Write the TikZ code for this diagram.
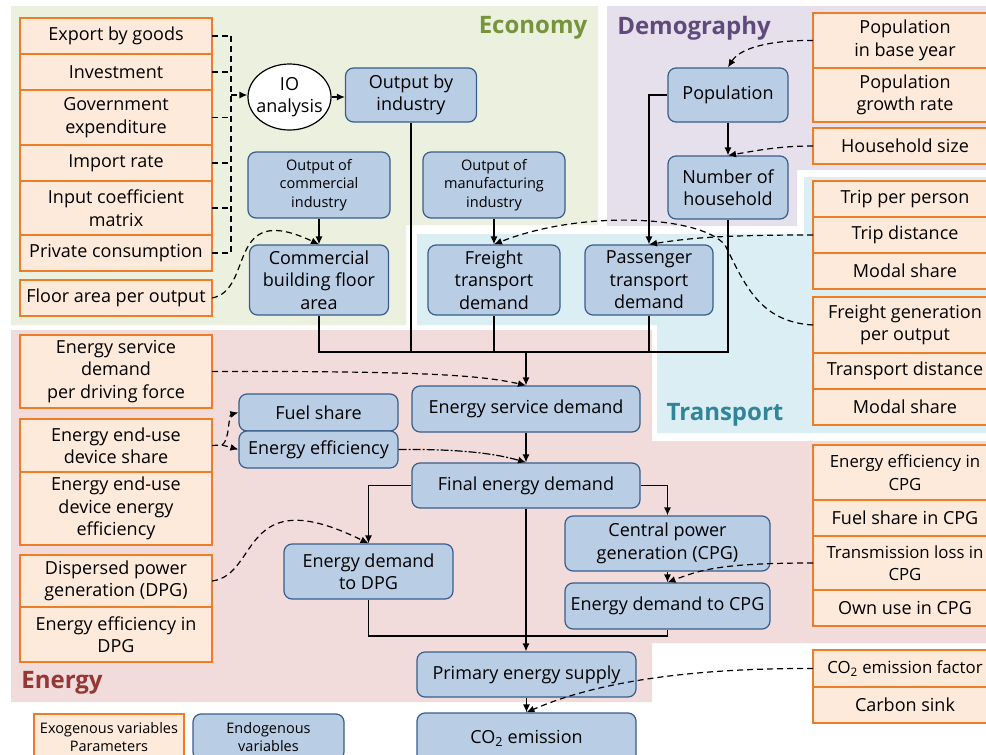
\documentclass[tikz,border=0pt]{standalone}
\usepackage{fontspec}
\setmainfont{Open Sans}
\usepackage{tikz}
\usepackage{xcolor}
\usetikzlibrary{arrows.meta, positioning, shapes.geometric}
\definecolor{econbg}{RGB}{235,241,222}
\definecolor{demobg}{RGB}{229,224,236}
\definecolor{transbg}{RGB}{218,238,243}
\definecolor{energybg}{RGB}{242,220,219}
\definecolor{econtxt}{RGB}{119,147,60}
\definecolor{demotxt}{RGB}{96,74,123}
\definecolor{transtxt}{RGB}{49,133,155}
\definecolor{energytxt}{RGB}{149,55,53}
\definecolor{endofill}{RGB}{185,205,229}
\definecolor{endoline}{RGB}{56,93,138}
\definecolor{exofill}{RGB}{253,234,218}
\definecolor{exoline}{RGB}{238,125,40}
\newcommand{\boxfont}{\fontsize{18}{22.5}\selectfont}
\newcommand{\tightboxfont}{\fontsize{16.8}{22.5}\selectfont}
\newcommand{\smallboxfont}{\fontsize{14.5}{18.5}\selectfont}
\newcommand{\titlefont}{\fontsize{24}{28}\selectfont\bfseries}
\tikzset{
  endo/.style={rectangle, rounded corners=8pt, draw=endoline, fill=endofill,
               line width=1.2pt, align=center, inner sep=1pt, font=\boxfont},
  endosmall/.style={endo, font=\smallboxfont},
  exo/.style={rectangle, draw=exoline, fill=exofill, line width=1.2pt,
              align=center, inner sep=1pt, outer sep=0pt,
              minimum width=192pt, minimum height=36pt, font=\boxfont},
  exor/.style={exo, minimum width=184pt},
  title/.style={font=\titlefont},
  link/.style={line width=1.2pt},
  arr/.style={-{Latex[length=8pt,width=7pt]}, line width=1.2pt},
  dashlink/.style={link, dash pattern=on 6pt off 4pt},
  dasharr/.style={arr, dash pattern=on 6pt off 4pt},
  dotarr/.style={arr, dash pattern=on 8pt off 2pt on 2pt off 2pt},
}
\begin{document}
\begin{tikzpicture}[x=1pt, y=-1pt]
  \useasboundingbox (0,0) rectangle (986,755);
  % sector areas
  \fill[econbg]   (11,6) -- (598,6) -- (598,225) -- (406,225) -- (406,325) -- (11,325) -- cycle;
  \fill[demobg]   (607,6) -- (986,6) -- (986,170) -- (797,170) -- (797,226) -- (607,226) -- cycle;
  \fill[transbg]  (417,234) -- (804,234) -- (804,177) -- (986,177) -- (986,433)
                  -- (657,433) -- (657,325) -- (417,325) -- cycle;
  \fill[energybg] (11,330) -- (652,330) -- (652,441) -- (986,441) -- (986,643)
                  -- (652,643) -- (652,702) -- (11,702) -- cycle;

  \node[title, text=econtxt]   (econ)   at (533,28)  {Economy};
  \node[title, text=demotxt]   (demo)   at (694,28)  {Demography};
  \node[title, text=transtxt]  (trans)  at (725,415) {Transport};
  \node[title, text=energytxt] (energy) at (62,683)  {Energy};

  % exogenous variables
  \node[exo] (exp) at (116,36)         {Export by goods};
  \node[exo, below=0pt of exp]  (inv)  {Investment};
  \node[exo, minimum height=55pt, below=0pt of inv] (gov) {Government\\expenditure};
  \node[exo, below=0pt of gov]  (imp)  {Import rate};
  \node[exo, minimum height=54pt, below=0pt of imp] (inp) {Input coefficient\\matrix};
  \node[exo, below=0pt of inp]  (priv) {Private consumption};
  \node[exo] (flo) at (116,298)        {Floor area per output};

  \node[exo, minimum height=73pt] (esdpar) at (116,371.5) {Energy service\\demand\\per driving force};
  \node[exo, minimum height=53pt] (devsh)  at (116,445.5) {Energy end-use\\device share};
  \node[exo, minimum height=73pt, below=0pt of devsh] (deveff) {Energy end-use\\device energy\\efficiency};
  \node[exo, minimum height=52pt] (dpg)    at (116,581)   {Dispersed power\\generation (DPG)};
  \node[exo, minimum height=55pt, below=0pt of dpg] (effdpg) {Energy efficiency in\\DPG};

  \node[exor, minimum height=55pt] (popbase) at (905,40.5) {Population\\in base year};
  \node[exor, minimum height=54pt, below=0pt of popbase] (popgr) {Population\\growth rate};
  \node[exor] (hhs)   at (905,146)     {Household size};
  \node[exor] (trip)  at (905,199)     {Trip per person};
  \node[exor, below=0pt of trip]  (tdist)  {Trip distance};
  \node[exor, below=0pt of tdist] (modal1) {Modal share};
  \node[exor, minimum height=56pt] (fgen) at (905,325) {Freight generation\\per output};
  \node[exor, below=0pt of fgen]   (trdist) {Transport distance};
  \node[exor, below=0pt of trdist] (modal2) {Modal share};
  \node[exor, minimum height=55pt, font=\tightboxfont] (effcpg) at (905,472.5) {Energy efficiency in\\CPG};
  \node[exor, below=0pt of effcpg] (fuelcpg) {Fuel share in CPG};
  \node[exor, minimum height=54pt, font=\tightboxfont, below=0pt of fuelcpg] (tloss) {Transmission loss in\\CPG};
  \node[exor, below=0pt of tloss]  (ownuse) {Own use in CPG};
  \node[exor, minimum height=37pt, font=\tightboxfont] (co2f) at (905,668.5) {CO\textsubscript{2} emission factor};
  \node[exor, below=0pt of co2f]   (sink) {Carbon sink};

  % endogenous variables
  \node[ellipse, draw, fill=white, line width=1.2pt, align=center, font=\boxfont,
        inner xsep=-4pt, inner ysep=2pt, minimum width=83pt, minimum height=66pt]
        (io) at (289.5,97) {IO\\analysis};
  \node[endo, minimum width=131pt, minimum height=54pt] (outind) at (411,95) {Output by\\industry};
  \node[endosmall, minimum width=142pt, minimum height=66pt] (ocom) at (319,185) {Output of\\commercial\\industry};
  \node[endosmall, minimum width=142pt, minimum height=66pt] (oman) at (494,185) {Output of\\manufacturing\\industry};
  \node[endo, minimum width=139pt, minimum height=70pt] (cbfa)    at (319,280) {Commercial\\building floor\\area};
  \node[endo, minimum width=132pt, minimum height=70pt] (freight) at (494,280) {Freight\\transport\\demand};
  \node[endo, minimum width=128pt, minimum height=70pt] (pass)    at (649,280) {Passenger\\transport\\demand};
  \node[endo, minimum width=120pt, minimum height=54pt] (pop)     at (728,95)  {Population};
  \node[endo, minimum width=120pt, minimum height=63pt] (nhh)     at (728,187.5) {Number of\\household};
  \node[endo, minimum width=228pt, minimum height=46pt] (esd)     at (526,409) {Energy service demand};
  \node[endo, minimum width=159pt, minimum height=37pt] (fuel)    at (318.5,412.5) {Fuel share};
  \node[endo, minimum width=159pt, minimum height=37pt] (eeff)    at (318.5,449.5) {Energy efficiency};
  \node[endo, minimum width=228pt, minimum height=45pt] (fed)     at (526,485.5) {Final energy demand};
  \node[endo, minimum width=169pt, minimum height=55pt] (edpg)    at (368.5,571.5) {Energy demand\\to DPG};
  \node[endo, minimum width=205pt, minimum height=55pt] (cpg)     at (667.5,543.5) {Central power\\generation (CPG)};
  \node[endo, minimum width=205pt, minimum height=46pt] (edcpg)   at (667.5,606) {Energy demand to CPG};
  \node[endo, minimum width=219pt, minimum height=45pt] (pes)     at (526.5,674.5) {Primary energy supply};
  \node[endo, minimum width=219pt, minimum height=50pt] (co2)     at (526.5,738) {CO\textsubscript{2} emission};

  % legend
  \node[exo, font=\smallboxfont, minimum width=150pt, minimum height=46pt] (legexo) at (109,737) {Exogenous variables\\Parameters};
  \node[endosmall, minimum width=151pt, minimum height=46pt] (legendo) at (268.5,737) {Endogenous\\variables};

  % solid flows
  \draw[arr] (io.east) -- (io.east -| outind.west);
  \draw[arr] (ocom) -- (cbfa);
  \draw[arr] (oman) -- (freight);
  \draw[arr] (pop) -- (nhh);
  \draw[arr] (pop.west) -| (pass.north);
  \coordinate (jn1) at (526,352);
  \draw[link] (cbfa.south) |- (jn1) -| (nhh.south);
  \foreach \n in {outind,freight,pass}
    \draw[link] (\n.south) -- (\n.south |- jn1);
  \draw[arr] (jn1) -- (esd.north);
  \draw[arr] (esd) -- (fed);
  \draw[arr] (fed.west) -| (edpg.north);
  \draw[arr] (fed.east) -| (cpg.north);
  \draw[arr] (cpg) -- (edcpg);
  \coordinate (jn2) at (526,636);
  \draw[link] (edpg.south) |- (jn2) -| (edcpg.south);
  \draw[arr] (fed.south) -- (fed.south |- pes.north);
  \draw[arr] (pes.south) -- (pes.south |- co2.north);

  % exogenous inputs
  \coordinate (iobus) at (231,95);
  \foreach \n in {exp,inv,gov,imp,inp,priv}
    \draw[dashlink] (\n.east) -- (\n.east -| iobus);
  \draw[dashlink] (exp.east -| iobus) -- (priv.east -| iobus);
  \draw[dasharr] (iobus) -- (iobus -| io.west);
  \draw[dasharr] (flo.east) .. controls (255,290) and (225,200) .. (cbfa.north);
  \draw[dasharr] (popbase.west) .. controls (770,40) and (740,48) .. (pop.north);
  \draw[dasharr] (hhs.west) .. controls (780,146) and (760,150) .. (nhh.north);
  \draw[dasharr] (tdist.west) .. controls (720,235) and (690,238) .. (pass.north);
  \draw[dasharr] (fgen.west) .. controls (760,322) and (745,285) .. (725,245)
                 .. controls (700,215) and (580,210) .. (freight.north);
  \draw[dasharr] (esdpar.east) .. controls (420,371) and (480,375) .. (esd.north);
  \coordinate (fork) at (222,445);
  \draw[dashlink] (devsh.east) -- (fork);
  \draw[dasharr] (fork) .. controls (230,440) and (228,415) .. (fuel.west);
  \draw[dasharr] (fork) -- (eeff.west);
  \draw[dotarr] (eeff.east) .. controls (450,449) and (490,452) .. (fed.north);
  \draw[dasharr] (dpg.east) .. controls (260,575) and (240,480) .. (edpg.north);
  \draw[dasharr] (tloss.west) .. controls (720,563) and (700,570) .. (edcpg.north);
  \draw[dasharr] (co2f.west) .. controls (700,668) and (600,680) .. (co2.north);
\end{tikzpicture}
\end{document}
